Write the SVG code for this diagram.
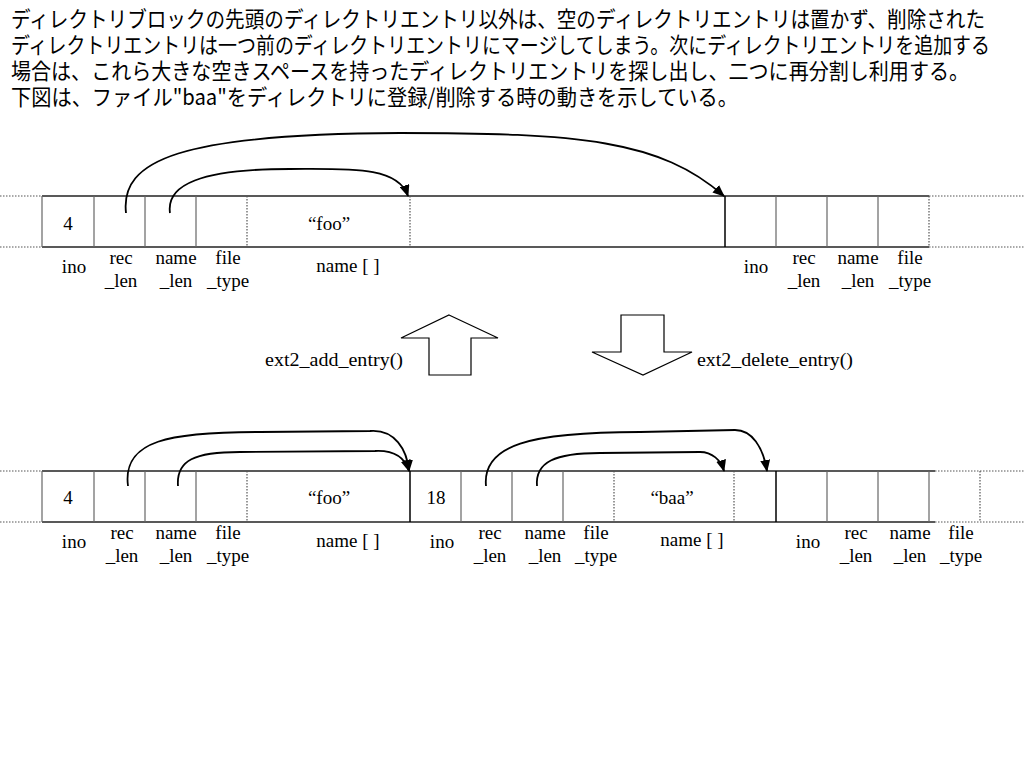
<svg xmlns="http://www.w3.org/2000/svg" width="1024" height="768" viewBox="0 0 1024 768">
<style>
.jp{font-family:"Noto Sans CJK JP","Noto Sans",sans-serif;font-size:22px;fill:#000}
.t{font-family:"Liberation Serif","Times New Roman",serif;font-size:19px;fill:#000;text-anchor:middle}
.fn{font-family:"Liberation Serif","Times New Roman",serif;font-size:19px;fill:#000}
.hl{stroke:#222;stroke-width:1.5;fill:none}
.dl{stroke:#555;stroke-width:1.2;stroke-dasharray:1.5 1.5;fill:none}
.vs{stroke:#666;stroke-width:1.2}
.vk{stroke:#000;stroke-width:1.5}
.vd{stroke:#555;stroke-width:1.2;stroke-dasharray:1.5 1.5}
.cv{stroke:#000;stroke-width:1.8;fill:none;marker-end:url(#ah)}
.blk{fill:#fff;stroke:#000;stroke-width:1.2}
</style>
<defs>
<marker id="ah" markerUnits="userSpaceOnUse" markerWidth="12" markerHeight="10" refX="11" refY="5" orient="auto">
<path d="M0,0 L12,5 L0,10 z" fill="#000"/>
</marker>
</defs>
<rect width="1024" height="768" fill="#fff"/>
<g id="description">
<text class="jp" x="11" y="27" textLength="974" lengthAdjust="spacingAndGlyphs">ディレクトリブロックの先頭のディレクトリエントリ以外は、空のディレクトリエントリは置かず、削除された</text>
<text class="jp" x="11" y="53" textLength="979" lengthAdjust="spacingAndGlyphs">ディレクトリエントリは一つ前のディレクトリエントリにマージしてしまう。次にディレクトリエントリを追加する</text>
<text class="jp" x="11" y="79" textLength="958" lengthAdjust="spacingAndGlyphs">場合は、これら大きな空きスペースを持ったディレクトリエントリを探し出し、二つに再分割し利用する。</text>
<text class="jp" x="11" y="105" textLength="727" lengthAdjust="spacingAndGlyphs">下図は、ファイル"baa"をディレクトリに登録/削除する時の動きを示している。</text>
</g>
<g id="top-row">
<line class="hl" x1="42" y1="196" x2="929" y2="196"/>
<line class="hl" x1="42" y1="247" x2="929" y2="247"/>
<line class="dl" x1="0" y1="196" x2="42" y2="196"/>
<line class="dl" x1="0" y1="247" x2="42" y2="247"/>
<line class="dl" x1="929" y1="196" x2="1024" y2="196"/>
<line class="dl" x1="929" y1="247" x2="1024" y2="247"/>
<line class="vs" x1="42" y1="196" x2="42" y2="247"/>
<line class="vs" x1="94" y1="196" x2="94" y2="247"/>
<line class="vs" x1="145" y1="196" x2="145" y2="247"/>
<line class="vs" x1="196" y1="196" x2="196" y2="247"/>
<line class="vd" x1="247" y1="196" x2="247" y2="247"/>
<line class="vd" x1="410" y1="196" x2="410" y2="247"/>
<line class="vk" x1="725" y1="196" x2="725" y2="247"/>
<line class="vs" x1="776" y1="196" x2="776" y2="247"/>
<line class="vs" x1="827" y1="196" x2="827" y2="247"/>
<line class="vs" x1="878" y1="196" x2="878" y2="247"/>
<line class="vd" x1="929" y1="196" x2="929" y2="247"/>
<text class="t" x="68" y="230">4</text>
<text class="t" x="329" y="230">“foo”</text>
<text class="t" x="74" y="273">ino</text>
<text class="t" x="121" y="264">rec</text>
<text class="t" x="121" y="287">_len</text>
<text class="t" x="176" y="264">name</text>
<text class="t" x="176" y="287">_len</text>
<text class="t" x="228" y="264">file</text>
<text class="t" x="228" y="287">_type</text>
<text class="t" x="348" y="272">name [ ]</text>
<text class="t" x="756" y="273">ino</text>
<text class="t" x="804" y="264">rec</text>
<text class="t" x="804" y="287">_len</text>
<text class="t" x="858" y="264">name</text>
<text class="t" x="858" y="287">_len</text>
<text class="t" x="910" y="264">file</text>
<text class="t" x="910" y="287">_type</text>
</g>
<g id="bottom-row">
<line class="hl" x1="42" y1="471" x2="935" y2="471"/>
<line class="hl" x1="42" y1="522" x2="935" y2="522"/>
<line class="dl" x1="0" y1="471" x2="42" y2="471"/>
<line class="dl" x1="0" y1="522" x2="42" y2="522"/>
<line class="dl" x1="935" y1="471" x2="1024" y2="471"/>
<line class="dl" x1="935" y1="522" x2="1024" y2="522"/>
<line class="vs" x1="42" y1="471" x2="42" y2="522"/>
<line class="vs" x1="94" y1="471" x2="94" y2="522"/>
<line class="vs" x1="145" y1="471" x2="145" y2="522"/>
<line class="vs" x1="196" y1="471" x2="196" y2="522"/>
<line class="vd" x1="247" y1="471" x2="247" y2="522"/>
<line class="vk" x1="410" y1="471" x2="410" y2="522"/>
<line class="vs" x1="461" y1="471" x2="461" y2="522"/>
<line class="vs" x1="512" y1="471" x2="512" y2="522"/>
<line class="vs" x1="563" y1="471" x2="563" y2="522"/>
<line class="vd" x1="614" y1="471" x2="614" y2="522"/>
<line class="vd" x1="734" y1="471" x2="734" y2="522"/>
<line class="vk" x1="776" y1="471" x2="776" y2="522"/>
<line class="vs" x1="827" y1="471" x2="827" y2="522"/>
<line class="vs" x1="878" y1="471" x2="878" y2="522"/>
<line class="vs" x1="929" y1="471" x2="929" y2="522"/>
<line class="vd" x1="980" y1="471" x2="980" y2="522"/>
<text class="t" x="68" y="504">4</text>
<text class="t" x="329" y="504">“foo”</text>
<text class="t" x="436" y="504">18</text>
<text class="t" x="672" y="504">“baa”</text>
<text class="t" x="74" y="548">ino</text>
<text class="t" x="122" y="539">rec</text>
<text class="t" x="122" y="562">_len</text>
<text class="t" x="176" y="539">name</text>
<text class="t" x="176" y="562">_len</text>
<text class="t" x="228" y="539">file</text>
<text class="t" x="228" y="562">_type</text>
<text class="t" x="348" y="547">name [ ]</text>
<text class="t" x="442" y="548">ino</text>
<text class="t" x="490" y="539">rec</text>
<text class="t" x="490" y="562">_len</text>
<text class="t" x="545" y="539">name</text>
<text class="t" x="545" y="562">_len</text>
<text class="t" x="596" y="539">file</text>
<text class="t" x="596" y="562">_type</text>
<text class="t" x="692" y="546">name [ ]</text>
<text class="t" x="808" y="548">ino</text>
<text class="t" x="856" y="539">rec</text>
<text class="t" x="856" y="562">_len</text>
<text class="t" x="910" y="539">name</text>
<text class="t" x="910" y="562">_len</text>
<text class="t" x="961" y="539">file</text>
<text class="t" x="961" y="562">_type</text>
</g>
<g id="add-arrow">
<polygon class="blk" points="449,315 498,338 471,338 471,375 429,375 429,338 401,338"/>
<text class="fn" x="265" y="366" textLength="138" lengthAdjust="spacingAndGlyphs">ext2_add_entry()</text>
</g>
<g id="delete-arrow">
<polygon class="blk" points="621,315 664,315 664,352 692,352 643,375 592,352 621,352"/>
<text class="fn" x="697" y="366" textLength="156" lengthAdjust="spacingAndGlyphs">ext2_delete_entry()</text>
</g>
<g id="connectors">
<path class="cv" d="M126,213 C120,160 180,134 400,133 C580,133 660,140 724,196"/>
<path class="cv" d="M170,213 C166,185 200,169 290,169 C350,169 398,166 408,196"/>
<path class="cv" d="M128,486 C122,440 170,432 260,432 L370,431 C395,429 407,450 409,471"/>
<path class="cv" d="M178,486 C176,460 195,452 240,452 L375,451 C395,450 405,458 409,471"/>
<path class="cv" d="M486,486 C482,445 530,432 640,432 L735,430 C752,430 763,447 767,471"/>
<path class="cv" d="M537,486 C535,462 555,453 600,453 L700,452 C712,452 721,460 724,471"/>
</g>
</svg>
